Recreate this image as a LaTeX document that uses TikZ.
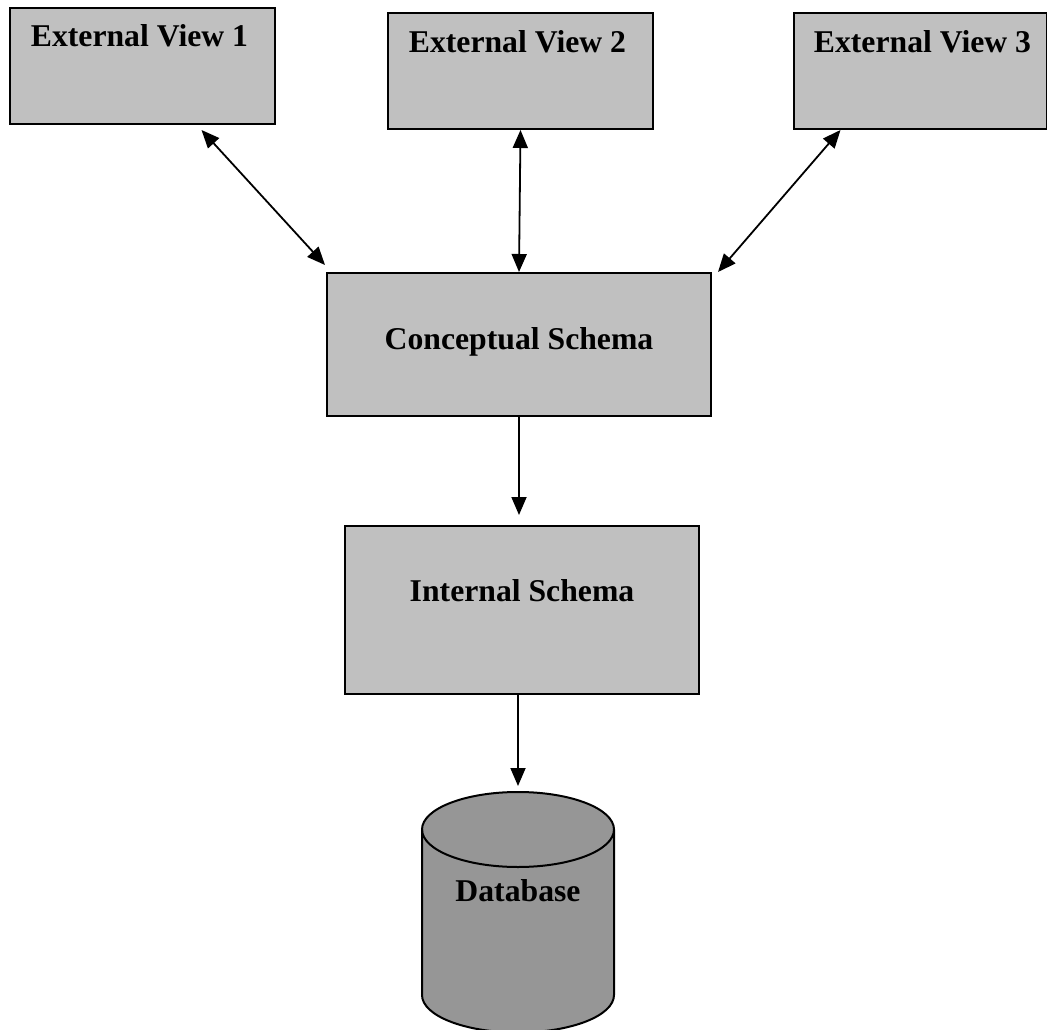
\documentclass[tikz,border=0pt]{standalone}
\usepackage{fontspec}
\setmainfont{Liberation Serif}
\usetikzlibrary{arrows.meta,positioning}
\definecolor{boxgray}{HTML}{C0C0C0}
\definecolor{dbgray}{HTML}{969696}
\tikzstyle{level}=[
	rectangle,
	draw=black,
	fill=boxgray,
	line width=2pt,
	inner sep=0]
\tikzstyle{store}=[
	draw=black,
	fill=dbgray,
	line width=2pt]
\tikzstyle{caption}=[
	font=\bfseries\fontsize{31.7}{38}\selectfont,
	inner sep=0,
	anchor=base]
\tikzstyle{link}=[
	line width=1.8pt,
	-{Triangle[length=18pt,width=15pt]}]
\tikzstyle{dlink}=[
	line width=1.8pt,
	{Triangle[length=18pt,width=15pt]}-{Triangle[length=18pt,width=15pt]}]

\begin{document}
\begin{tikzpicture}[x=1pt,y=-1pt]
	\useasboundingbox (0,0) rectangle (1047,1030);
	% external level
	\node[level,minimum width=265,minimum height=116,anchor=north west]	(ev1)	at (9,7)	{};
	\node[level,minimum width=265,minimum height=116,anchor=north west]	(ev2)	at (387,12)	{};
	\node[level,minimum width=253,minimum height=116,anchor=north west]	(ev3)	at (793,12)	{};
	\node[caption]	(ev1txt)	at ([xshift=-3pt,yshift=-40pt]ev1.north)	{External View 1};
	\node[caption]	(ev2txt)	at ([xshift=-3pt,yshift=-41pt]ev2.north)	{External View 2};
	\node[caption]	(ev3txt)	at ([xshift=2pt,yshift=-41pt]ev3.north)	{External View 3};
	% conceptual and internal level
	\node[level,minimum width=384,minimum height=143,anchor=north west]	(concept)	at (326,272)	{};
	\node[caption]	(concepttxt)	at ([yshift=-77pt]concept.north)	{Conceptual Schema};
	\node[level,minimum width=354,minimum height=168,xshift=3pt]	(internal)	[below=108pt of concept]	{};
	\node[caption]	(internaltxt)	at ([yshift=-76pt]internal.north)	{Internal Schema};
	% stored data
	\coordinate	(db)	at (518,792);
	\draw[store]	(422,829.5) -- (422,995)
		arc[start angle=180,end angle=360,x radius=96pt,y radius=37.5pt]
		-- (614,829.5)
		arc[start angle=0,end angle=180,x radius=96pt,y radius=37.5pt] -- cycle;
	\draw[store,fill=none]	(422,829.5) arc[start angle=180,end angle=360,x radius=96pt,y radius=37.5pt];
	\node[caption]	(dbtxt)	at ([yshift=-109pt]db)	{Database};
	% mappings
	\draw[dlink]	([xshift=59pt,yshift=-5pt]ev1.south)	--	([xshift=-1pt,yshift=7pt]concept.north west);
	\draw[dlink]	(ev2.south)	--	(concept.north);
	\draw[dlink]	([xshift=-80pt]ev3.south)	--	([xshift=6pt]concept.north east);
	\draw[link,shorten >=10pt]	(concept.south)	--	(concept.south |- internal.north);
	\draw[link,shorten >=6pt]	([xshift=-4pt]internal.south)	--	(db);
\end{tikzpicture}
\end{document}
